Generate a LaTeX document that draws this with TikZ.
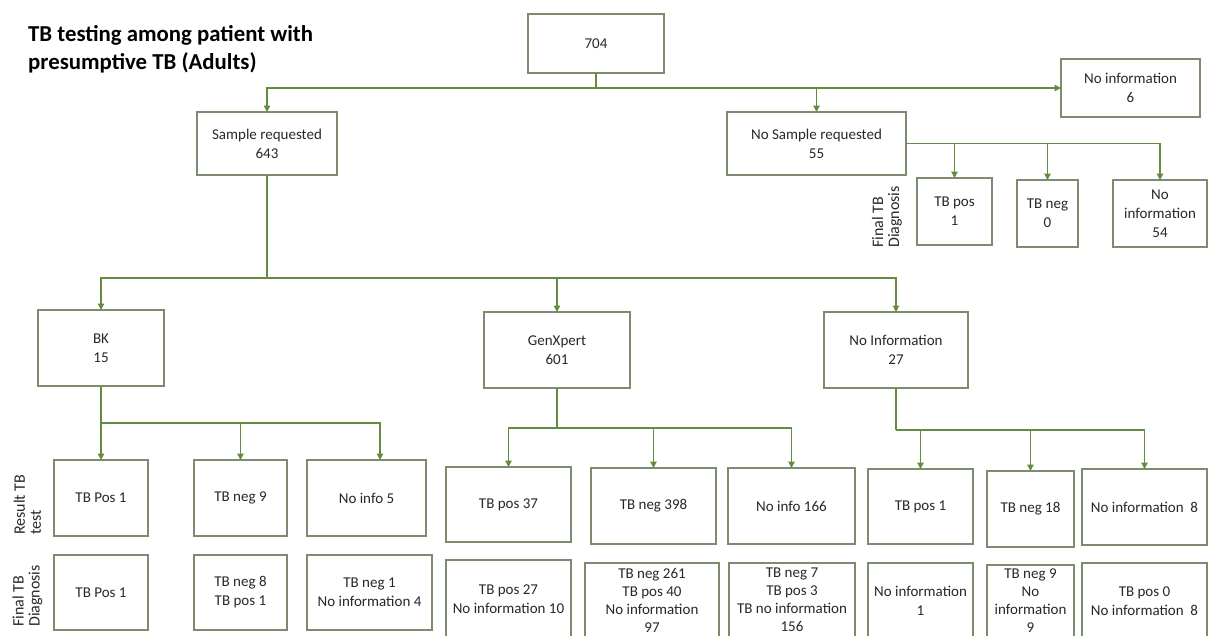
\documentclass[tikz,border=0pt]{standalone}
\usepackage{fontspec}
\setmainfont{Carlito}
\usetikzlibrary{arrows.meta}
\definecolor{boxc}{RGB}{125,140,110}
\definecolor{linec}{RGB}{100,140,65}
\definecolor{txt}{RGB}{40,40,40}
\tikzset{
  box/.style={draw=boxc, line width=1.2pt, align=center, inner sep=0pt, outer sep=0pt,
    font=\fontsize{15}{19}\selectfont, text=txt},
  tight/.style={font=\fontsize{15}{18}\selectfont},
  conn/.style={draw=linec, line width=1.3pt},
  arr/.style={conn, -{Triangle[width=6.5pt,length=6.5pt]}},
  lab/.style={rotate=90, anchor=west, align=left, inner sep=0pt,
    font=\fontsize{16}{16}\selectfont, text=txt},
}
\newcommand\mybox[7][]{\node[box, #1, minimum width={#5-#3}, minimum height={#6-#4}, anchor=north west] (#2) at (#3,#4) {#7};}
\begin{document}
\begin{tikzpicture}[x=1pt,y=-1pt]
\useasboundingbox (0,0) rectangle (1208,635);
\clip (0,0) rectangle (1208,635);
\fill[white] (0,0) rectangle (1208,635);
% title
\node[anchor=north west, align=left, inner sep=0pt, text=black,
  font=\bfseries\fontsize{22.8}{28}\selectfont] (title) at (28,25)
  {TB testing among patient with\\presumptive TB (Adults)};
% top level
\mybox{n704}{528}{14}{664}{73}{704}
\mybox{noinfo6}{1061}{59}{1200}{117}{No information\\6}
\mybox{sample}{197}{112}{337}{175}{Sample requested\\643}
\mybox{nosample}{727}{112}{906}{175}{No Sample requested\\55}
\mybox{ns1}{917}{178}{992}{245}{TB pos\\1}
\mybox{ns2}{1017}{180}{1078}{247}{TB neg\\0}
\mybox{ns3}{1113}{180}{1207}{247}{No\\information\\54}
\node[lab] (labns) at (887,248) {Final TB\\Diagnosis};
% second level
\mybox{bk}{38}{310}{164}{386}{BK\\15}
\mybox{gx}{484}{312}{630}{388}{GenXpert\\601}
\mybox{ni}{824}{312}{968}{388}{No Information\\27}
% BK
\mybox{r1}{54}{460}{148}{536}{TB Pos 1}
\mybox{r2}{194}{460}{287}{536}{TB neg 9}
\mybox{r3}{307}{460}{426}{536}{No info 5}
\mybox{f1}{54}{555}{148}{630}{TB Pos 1}
\mybox{f2}{194}{555}{287}{630}{TB neg 8\\TB pos 1}
\mybox{f3}{307}{555}{432}{630}{TB neg 1\\No information 4}
% GenXpert
\mybox{g1}{446}{467}{571}{542}{TB pos 37}
\mybox{g2}{591}{468}{716}{544}{TB neg 398}
\mybox{g3}{728}{468}{855}{544}{No info 166}
\mybox{gf1}{446}{560}{571}{638}{TB pos 27\\No information 10}
\mybox[tight]{gf2}{585}{563}{719}{637}{TB neg 261\\TB pos 40\\No information\\97}
\mybox[tight]{gf3}{729}{563}{855}{637}{TB neg 7\\TB pos 3\\TB no information\\156}
% No Information
\mybox{n1}{868}{469}{973}{544}{TB pos 1}
\mybox{n2}{987}{471}{1074}{547}{TB neg 18}
\mybox{n3}{1082}{469}{1207}{545}{No information\ \ 8}
\mybox{nf1}{868}{563}{973}{639}{No information\\1}
\mybox[tight]{nf2}{987}{565}{1074}{637}{TB neg 9\\No\\information\\9}
\mybox{nf3}{1082}{563}{1207}{639}{TB pos 0\\No information\ \ 8}
% row labels
\node[lab] (labres) at (27.5,535) {Result TB\\test};
\node[lab] (labfin) at (27.5,627) {Final TB\\Diagnosis};
% connectors
\coordinate (j1) at (596,88);
\draw[conn] (n704.south) -- (j1);
\draw[arr] (j1) -| (sample.north);
\draw[arr] (j1) -| (nosample.north);
\draw[arr] (j1) -- (noinfo6.west);
\draw[arr] (nosample.east) -| (ns3.north);
\draw[arr] (nosample.east -| ns1.north) -- (ns1.north);
\draw[arr] (nosample.east -| ns2.north) -- (ns2.north);
\coordinate (j2) at (267,278);
\draw[conn] (sample.south) -- (j2);
\draw[arr] (j2) -| (bk.north);
\draw[arr] (j2) -| (gx.north);
\draw[arr] (j2) -| (ni.north);
\coordinate (jb) at (101,423);
\draw[conn] (bk.south) -- (jb);
\draw[arr] (jb) -- (r1.north);
\draw[arr] (jb) -| (r2.north);
\draw[arr] (jb) -| ([xshift=13.5pt]r3.north);
\coordinate (jg) at (557,428);
\draw[conn] (gx.south) -- (jg);
\draw[arr] (jg) -| (g1.north);
\draw[arr] (jg) -| (g2.north);
\draw[arr] (jg) -| (g3.north);
\coordinate (jn) at (896,430);
\draw[conn] (ni.south) -- (jn);
\draw[arr] (jn) -| (n1.north);
\draw[arr] (jn) -| (n2.north);
\draw[arr] (jn) -| (n3.north);
\end{tikzpicture}
\end{document}
